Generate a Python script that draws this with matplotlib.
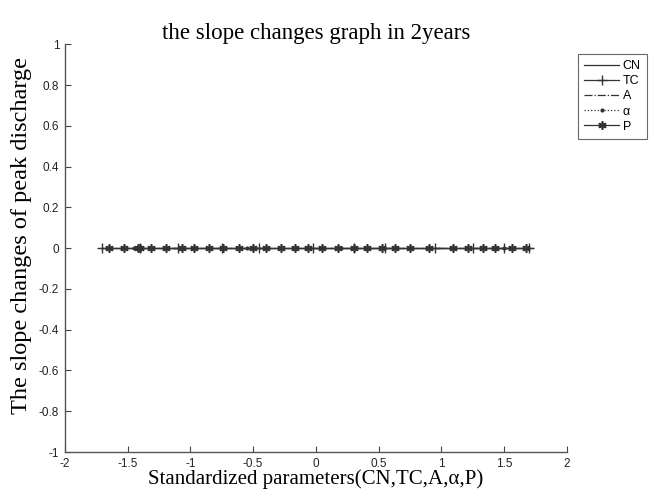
import matplotlib
matplotlib.use("Agg")
import matplotlib.pyplot as plt

# standardized parameter values (x) for each series; slope changes (y) all ~0
cn_x = [-1.72, -1.2, -0.6, 0.0, 0.6, 1.2, 1.73]
cn_y = [0, 0, 0, 0, 0, 0, 0]
tc_x = [-1.70, -1.40, -1.10, -0.75, -0.45, -0.02, 0.30, 0.55, 0.95, 1.25, 1.50, 1.70]
tc_y = [0] * len(tc_x)
a_x = [-1.68, -1.1, -0.55, 0.0, 0.55, 1.1, 1.68]
a_y = [0] * len(a_x)
alpha_x = [-1.45, -0.55, 0.20, 0.75, 1.50]
alpha_y = [0] * len(alpha_x)
p_x = [-1.65, -1.53, -1.42, -1.40, -1.31, -1.19, -1.07, -0.97, -0.85, -0.74,
       -0.61, -0.50, -0.40, -0.28, -0.17, -0.06, 0.05, 0.18, 0.30, 0.41,
       0.53, 0.63, 0.75, 0.90, 1.09, 1.21, 1.33, 1.43, 1.56, 1.67]
p_y = [0] * len(p_x)

xticks = [-2, -1.5, -1, -0.5, 0, 0.5, 1, 1.5, 2]
yticks = [-1, -0.8, -0.6, -0.4, -0.2, 0, 0.2, 0.4, 0.6, 0.8, 1]

fig = plt.figure(figsize=(6.54, 4.97), dpi=100)
ax = fig.add_axes([0.099, 0.0905, 0.768, 0.8205])

c = "#333333"
asterisk = (6, 2, 0)
h1, = ax.plot(cn_x, cn_y, color=c, lw=0.9, label="CN")
h2, = ax.plot(tc_x, tc_y, color=c, lw=0.9, marker="+", ms=7, label="TC")
h3, = ax.plot(a_x, a_y, color=c, lw=0.9, ls="-.", label="A")
h4, = ax.plot(alpha_x, alpha_y, color=c, lw=0.9, ls=":", marker=".", ms=4, label="α")
h5, = ax.plot(p_x, p_y, color=c, lw=0.9, marker=asterisk, ms=6, mew=1.2, label="P")

ax.set_xlim(-2, 2)
ax.set_ylim(-1, 1)
ax.set_xticks(xticks)
ax.set_yticks(yticks)
ax.set_xticklabels([f"{v:g}" for v in xticks])
ax.set_yticklabels([f"{v:g}" for v in yticks])
ax.tick_params(direction="in", length=4, labelsize=8.5, colors="#444444",
               labelcolor="#222222", pad=4)
for lab in ax.get_xticklabels() + ax.get_yticklabels():
    lab.set_fontfamily("Liberation Sans")
ax.spines["top"].set_visible(False)
ax.spines["right"].set_visible(False)
for s in ("left", "bottom"):
    ax.spines[s].set_color("#555555")
    ax.spines[s].set_linewidth(1.0)

ax.set_title("the slope changes graph in 2years", fontfamily="Liberation Serif",
             fontsize=16.5, pad=4)
ax.set_xlabel("Standardized parameters(CN,TC,A,α,P)", fontfamily="Liberation Serif",
              fontsize=15, labelpad=0)
ax.set_ylabel("The slope changes of peak discharge", fontfamily="Liberation Serif",
              fontsize=17.5)
ax.yaxis.set_label_coords(-0.066, 0.53)

leg = fig.legend(handles=[h1, h2, h3, h4, h5], loc="upper left",
                 bbox_to_anchor=(0.874, 0.904), frameon=True, fancybox=False,
                 prop={"family": "Liberation Sans", "size": 9},
                 handlelength=2.8, handletextpad=0.3, borderpad=0.5,
                 labelspacing=0.25)
leg.get_frame().set_edgecolor("#444444")
leg.get_frame().set_linewidth(0.8)

fig.savefig("out.png", dpi=100)
